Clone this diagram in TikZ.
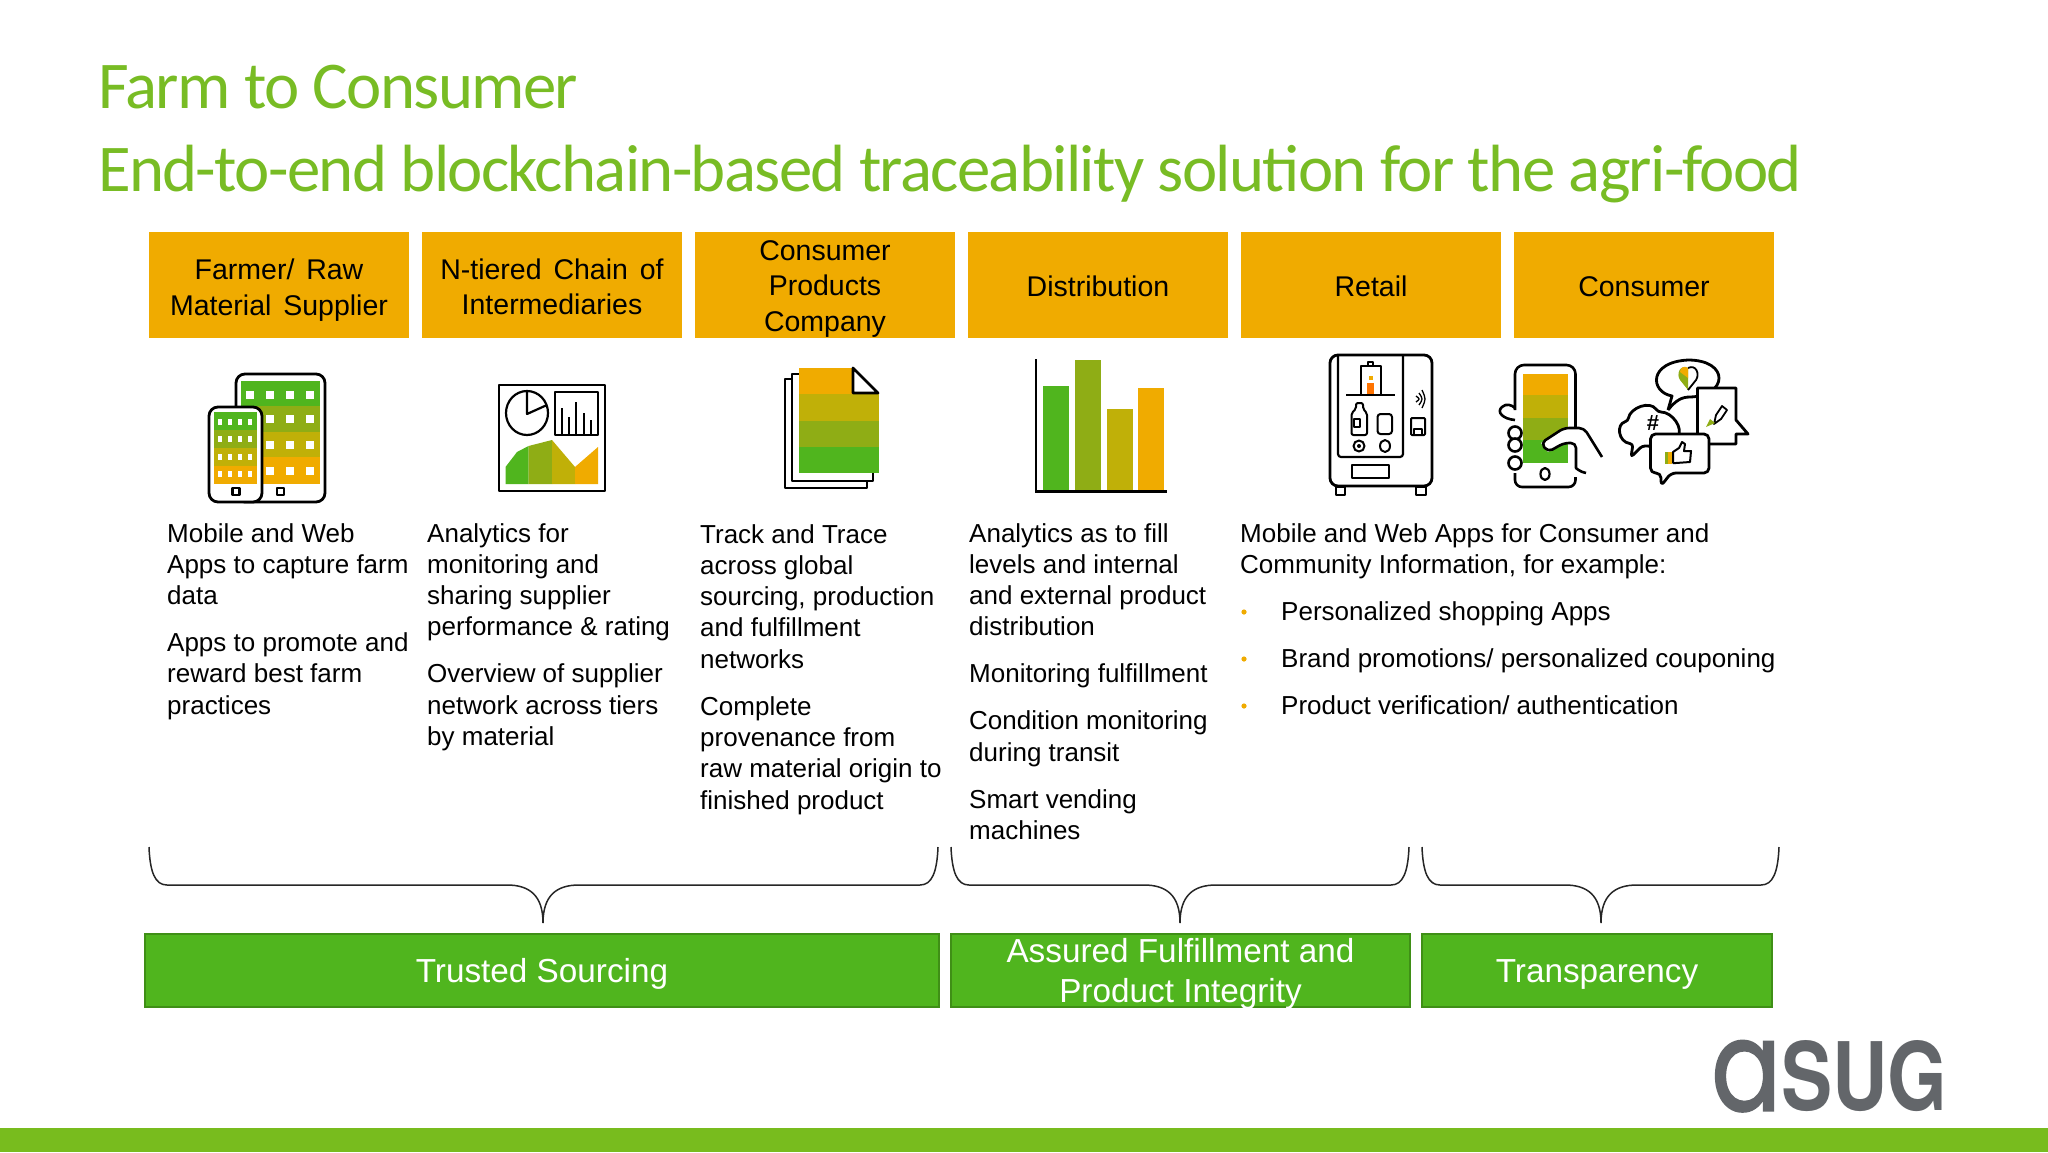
\documentclass[tikz,border=0pt]{standalone}
\usepackage{fontspec}
\usepackage{graphicx}
\setmainfont{Liberation Sans}
\newfontfamily\titlefont[LetterSpace=-2.5]{Carlito}
\newfontfamily\hdrfont[WordSpace=1.5]{Liberation Sans}
\newfontfamily\logoa[FakeBold=1.6]{Poppins}
\newfontfamily\logosug{TeX Gyre Heros}
\definecolor{titlegreen}{HTML}{78BC24}
\definecolor{bargreen}{HTML}{78BC1E}
\definecolor{boxgreen}{HTML}{50B51E}
\definecolor{boxedge}{HTML}{3F8F16}
\definecolor{bandgreen}{HTML}{50B51E}
\definecolor{bandolive}{HTML}{8FAD15}
\definecolor{bandyellow}{HTML}{C0B008}
\definecolor{bandorange}{HTML}{F0AB00}
\definecolor{logogray}{HTML}{63666A}
\tikzset{
  hdrbox/.style={fill=bandorange, minimum width=260pt, minimum height=106pt, inner sep=0pt, align=center, font=\hdrfont\fontsize{28.5}{35.5}\selectfont},
  groupbox/.style={draw=boxedge, line width=2pt, fill=boxgreen, minimum height=73pt, inner sep=0pt, align=center, text=white, font=\fontsize{33.3}{40}\selectfont},
  bodytext/.style={anchor=north west, inner sep=0pt, align=left, font=\fontsize{26}{31.3}\selectfont},
  iconline/.style={draw=black, line width=2.8pt, line join=round},
  bracket/.style={draw=black!85, line width=1.5pt}
}
\newcommand{\groupbrace}[3]{
  \draw[bracket] (#1,847) .. controls (#1+1,872) and (#1+6,885) .. (#1+18,885) -- (#2-36,885)
    .. controls (#2-14,885) and (#2,895) .. (#2,923) .. controls (#2,895) and (#2+14,885) .. (#2+36,885)
    -- (#3-18,885) .. controls (#3-6,885) and (#3-1,872) .. (#3,847);
}
\begin{document}
\begin{tikzpicture}[x=1pt, y=-1pt]
    \useasboundingbox[fill=white] (0,0) rectangle (2048,1152);

    % title
    \node[anchor=base west, inner sep=0pt, text=titlegreen, font=\fontsize{66.8}{70}\selectfont\titlefont] (title1) at (98,108.5) {Farm to Consumer};
    \node[anchor=base west, inner sep=0pt, text=titlegreen, font=\fontsize{66.8}{70}\selectfont\titlefont] (title2) at (98,191.5) {End-to-end blockchain-based traceability solution for the agri-food};

    % chain steps
    \foreach \x/\n/\lift/\t in {279/farmer/31/{Farmer/ Raw\\Material Supplier}, 552/tier/24/{N-tiered Chain of\\Intermediaries}, 825/company/27/{Consumer\\Products\\Company}, 1098/distrib/24/Distribution, 1371/retail/23/Retail, 1644/consumer/24/Consumer}
      \node[hdrbox] (\n) at (\x,285) {\rule{0pt}{\lift pt}\t};

    % tablet and phone
    \draw[iconline, fill=white, rounded corners=9pt] (236,374) rectangle (325,502);
    \foreach \a/\b/\c in {381/406/bandgreen, 406/432/bandolive, 432/457/bandyellow, 457/484/bandorange}
      \fill[\c] (241,\a) rectangle (320,\b);
    \foreach \x in {250,270,290,310} \foreach \y in {395,419,445,471}
      \fill[white] (\x-4,\y-4) rectangle (\x+4,\y+4);
    \draw[iconline, fill=white, rounded corners=9pt] (209,407) rectangle (262,502);
    \foreach \a/\b/\c in {412/430/bandgreen, 430/448/bandolive, 448/466/bandyellow, 466/484/bandorange}
      \fill[\c] (214,\a) rectangle (257,\b);
    \foreach \x in {220,230,240,250} \foreach \y in {422,439,457,474}
      \fill[white] (\x-2,\y-3) rectangle (\x+2,\y+3);
    \draw[iconline, line width=2.2pt] (232.5,488) rectangle (239.5,495);
    \draw[iconline, line width=2.2pt] (277,488) rectangle (284,495);

    % report
    \draw[iconline] (499,385) rectangle (605,491);
    \draw[iconline, line width=2.2pt] (527,413) circle[x radius=21pt, y radius=22pt];
    \draw[iconline, line width=2.2pt] (527,392) -- (527,414) -- (547,405);
    \draw[iconline, line width=2.2pt] (555,392) rectangle (598,435);
    \foreach \x/\y in {562/408, 569/417, 576/402, 584/413, 591/420}
      \draw[black, line width=1.5pt] (\x,\y) -- (\x,435);
    \fill[bandgreen] (505.5,484) -- (505.5,467) -- (517,452) -- (528.5,446) -- (528.5,484) -- cycle;
    \fill[bandolive] (528.5,484) -- (528.5,446) -- (552,440) -- (552,484) -- cycle;
    \fill[bandyellow] (552,484) -- (552,440) -- (575,467) -- (575,484) -- cycle;
    \fill[bandorange] (575,484) -- (575,467) -- (598,447) -- (598,484) -- cycle;

    % stacked pages
    \draw[iconline, fill=white] (785,379) rectangle (867,488);
    \draw[iconline, fill=white] (792,374) rectangle (873,481);
    \foreach \a/\b/\c in {368/394/bandorange, 394/421/bandyellow, 421/447/bandolive, 447/473/bandgreen}
      \fill[\c] (799,\a) rectangle (878.5,\b);
    \fill[white] (853,366) rectangle (880,394);
    \draw[iconline, fill=white] (853,368) -- (853,393) -- (878,393) -- cycle;

    % bar chart
    \foreach \a/\b/\t/\c in {1043/1069/386/bandgreen, 1075/1100.5/360/bandolive, 1106.6/1133/409/bandyellow, 1138/1164/388/bandorange}
      \fill[\c] (\a,\t) rectangle (\b,490);
    \draw[black, line width=2.2pt] (1036,359) -- (1036,490);
    \draw[black, line width=3pt] (1035,491) -- (1167,491);

    % vending machine
    \draw[iconline, rounded corners=8pt] (1330,355) rectangle (1432,486);
    \draw[iconline, line width=2.2pt, rounded corners=3pt] (1338,355) -- (1338,457) -- (1403,457) -- (1403,355);
    \draw[iconline, line width=2.2pt] (1346,395) -- (1395,395);
    \draw[iconline, line width=1.8pt] (1361,395) -- (1361,366) -- (1381,366) -- (1381,395);
    \draw[iconline, line width=1.8pt] (1368,366) rectangle (1373,362);
    \fill[bandorange] (1369,376) rectangle (1373,380);
    \fill[orange!90!red] (1367,383) rectangle (1374,394);
    \draw[iconline, line width=2pt, rounded corners=2pt] (1351.5,435) -- (1351.5,413) -- (1356,409) -- (1356,403) -- (1363,403) -- (1363,409) -- (1367,413) -- (1367,435) -- cycle;
    \draw[iconline, line width=2pt] (1354,419) rectangle (1360,427);
    \draw[iconline, line width=2pt, rounded corners=3pt] (1377.5,414) rectangle (1392,434);
    \draw[iconline, line width=2pt] (1359,446) circle[radius=5.5pt];
    \fill[black] (1359,446) circle[radius=2pt];
    \draw[iconline, line width=2pt] (1385,446) circle[x radius=5pt, y radius=6pt];
    \draw[iconline, line width=2.2pt] (1352,465) rectangle (1389,478);
    \draw[iconline, line width=2.2pt] (1336,487) rectangle (1345,495);
    \draw[iconline, line width=2.2pt] (1416,487) rectangle (1426,495);
    \foreach \r in {3,6,9}
      \draw[black, line width=1.3pt] (1413+\r,399-\r) .. controls (1417+\r,399) .. (1413+\r,399+\r);
    \draw[iconline, line width=2pt, rounded corners=1pt] (1411,418) rectangle (1425,435);
    \draw[iconline, line width=1.6pt] (1414,434) -- (1414,429) -- (1422,429) -- (1422,434);

    % phone in hand
    \draw[iconline, line width=2.6pt, rounded corners=9pt] (1515,410) -- (1515,365) -- (1575.5,365) -- (1575.5,440);
    \foreach \a/\b/\c in {374/395/bandorange, 395/418/bandyellow, 418/440/bandolive, 440/463/bandgreen}
      \fill[\c] (1522.5,\a) rectangle (1568,\b);
    \draw[iconline, line width=2.6pt, rounded corners=7pt] (1515,473) -- (1515,487) -- (1575.5,487) -- (1575.5,477);
    \draw[iconline, line width=2.2pt] (1545,474) circle[x radius=4.5pt, y radius=6pt];
    \draw[iconline, line width=2.6pt, fill=white] (1515,433) circle[radius=6.5pt];
    \draw[iconline, line width=2.6pt, fill=white] (1515,445) circle[radius=6.5pt];
    \draw[iconline, line width=2.6pt, fill=white] (1515,463) circle[radius=6.5pt];
    \draw[iconline, line width=2.6pt] (1515,420) .. controls (1503,419) and (1496,412) .. (1502,407) .. controls (1506,403) and (1512,405) .. (1515,408);
    \fill[white] (1541,443) -- (1564,428) -- (1584,428) -- (1602,457) -- (1586,473) -- (1575,463) -- (1575,443) -- (1564,443) -- (1548,452) -- cycle;
    \draw[iconline, line width=2.6pt, rounded corners=5pt] (1602,457) -- (1584,428) -- (1564,428) -- (1541,443) -- (1548,452) -- (1564,443) -- (1576,443) -- (1576,463) .. controls (1576,468) and (1580,472) .. (1586,473);

    % chat bubbles
    \draw[iconline] (1668,410) -- (1672,396) .. controls (1650,392) and (1648,362) .. (1688,360) .. controls (1730,360) and (1728,396) .. (1690,397) .. controls (1682,397) and (1676,400) .. (1668,410);
    \fill[bandolive] (1688,368) .. controls (1680,364) and (1676,374) .. (1680,380) -- (1688,390) -- cycle;
    \fill[bandorange] (1688,368) .. controls (1684,365) and (1680,368) .. (1680,372) -- (1688,378) -- cycle;
    \draw[iconline, line width=1.8pt] (1688,368) .. controls (1696,364) and (1700,374) .. (1696,380) -- (1688,390);
    \draw[iconline, fill=white] (1697.5,388) -- (1736,388) -- (1736,420) -- (1748,434) -- (1736,434) -- (1736,444) -- (1697.5,444) -- cycle;
    \draw[iconline, line width=1.8pt] (1714,424) -- (1716,415) -- (1722,406) -- (1727,410) -- (1721,419) -- cycle;
    \fill[bandolive] (1706,427) -- (1710,419) -- (1715,423) -- cycle;
    \draw[iconline, fill=white, rounded corners=3pt] (1631,457) -- (1633,444) .. controls (1618,442) and (1616,424) .. (1628,421) .. controls (1630,408) and (1650,400) .. (1658,412) .. controls (1672,412) and (1684,428) .. (1676,440) .. controls (1672,448) and (1650,446) .. (1642,446) -- cycle;
    \node[inner sep=0pt, font=\bfseries\fontsize{22}{22}\selectfont] (hashmark) at (1653,423) {\#};
    \draw[iconline, fill=white, rounded corners=5pt] (1650.5,434) -- (1709,434) -- (1709,473) -- (1671,473) -- (1661,486) -- (1661,473) -- (1650.5,473) -- cycle;
    \fill[bandolive] (1665,452) rectangle (1672,464);
    \fill[bandorange] (1668,452) rectangle (1672,464);
    \draw[iconline, line width=2pt, line join=round] (1673,452) -- (1679,448) -- (1682,442) -- (1685,444) -- (1684,451) -- (1691,451) -- (1690,462) -- (1676,463) -- (1673,463) -- cycle;

    % texts below the icons
    \node[bodytext] (farmertext) at (167,523) {Mobile and Web\\Apps to capture farm\\data\\[15.7pt]Apps to promote and\\reward best farm\\practices};
    \node[bodytext] (tiertext) at (427,523) {Analytics for\\monitoring and\\sharing supplier\\performance \& rating\\[15.7pt]Overview of supplier\\network across tiers\\by material};
    \node[bodytext] (companytext) at (700,524) {Track and Trace\\across global\\sourcing, production\\and fulfillment\\networks\\[15.7pt]Complete\\provenance from\\raw material origin to\\finished product};
    \node[bodytext] (distribtext) at (969,523) {Analytics as to fill\\levels and internal\\and external product\\distribution\\[15.7pt]Monitoring fulfillment\\[15.7pt]Condition monitoring\\during transit\\[15.7pt]Smart vending\\machines};
    \node[bodytext] (retailtext) at (1240,523) {Mobile and Web Apps for Consumer and\\Community Information, for example:};
    \foreach \y/\n/\t in {620/shopping/{Personalized shopping Apps}, 667/coupons/{Brand promotions/ personalized couponing}, 714/verify/{Product verification/ authentication}} {
      \fill[bandorange] (1244,\y-8) circle[radius=2.6pt];
      \node[anchor=base west, inner sep=0pt, font=\fontsize{26}{31.3}\selectfont] (\n) at (1281,\y) {\t};
    }

    % braces
    \groupbrace{149}{543}{938}
    \groupbrace{951}{1180}{1409}
    \groupbrace{1422}{1601}{1779}

    % outcome boxes
    \node[groupbox, minimum width=794pt] (sourcing) at (542,970) {\rule{0pt}{32pt}Trusted Sourcing};
    \node[groupbox, minimum width=459pt, text depth=0pt] (integrity) at (1180.5,970) {\rule{0pt}{25pt}Assured Fulfillment and\\Product Integrity};
    \node[groupbox, minimum width=350pt] (transparency) at (1597,970) {\rule{0pt}{32pt}Transparency};

    % logo and footer
    \fill[bargreen] (0,1128) rectangle (2048,1152);
    \node[anchor=south west, inner sep=0pt, text=logogray] (logoleft) at (1711,1112) {\resizebox{70pt}{70pt}{\logoa a}};
    \node[anchor=south west, inner sep=0pt, text=logogray] (logoright) at (1781,1112) {\resizebox{166pt}{70pt}{\logosug\bfseries SUG}};
  \end{tikzpicture}
\end{document}
